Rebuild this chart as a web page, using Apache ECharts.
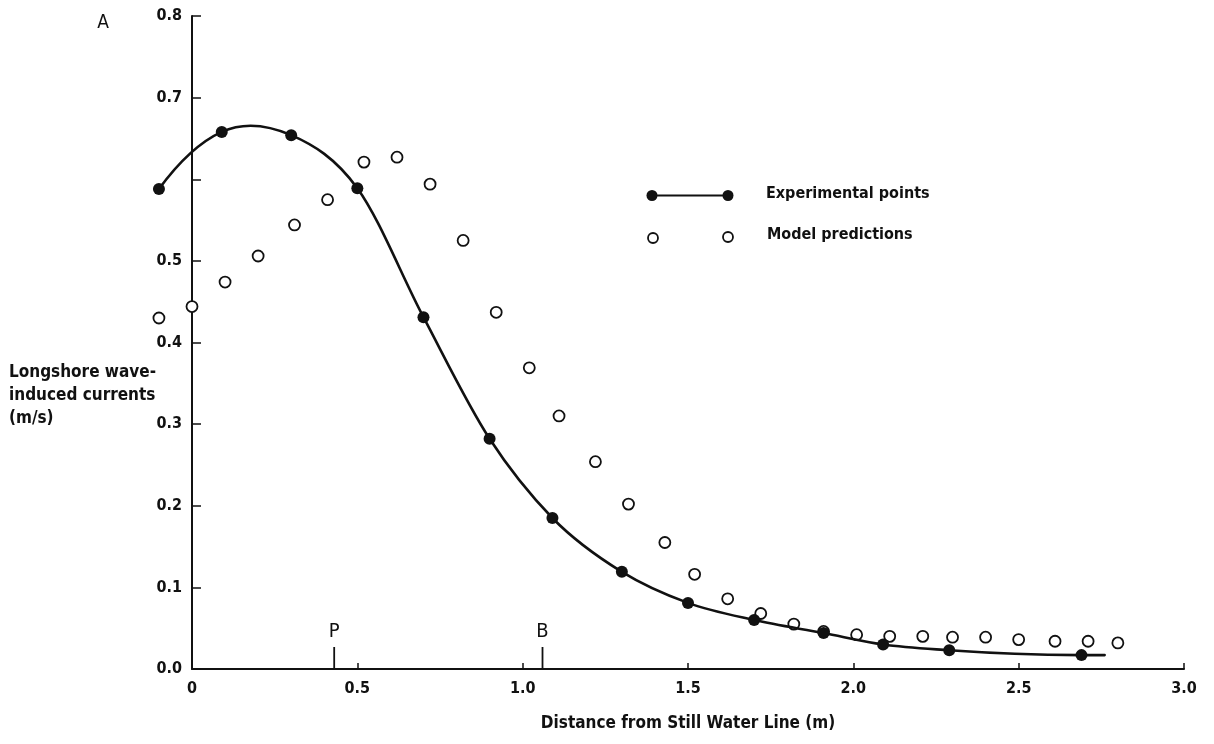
<!DOCTYPE html>
<html>
<head>
<meta charset="utf-8">
<title>Longshore wave-induced currents</title>
<script src="https://cdn.jsdelivr.net/npm/echarts@6/dist/echarts.min.js"></script>
<style>
  html, body { margin: 0; padding: 0; background: #fff; }
  #chart { width: 1214px; height: 744px; }
</style>
</head>
<body>
<div id="chart"></div>
<script>
// Distance from still water line (m) and measured longshore current (m/s)
const expX = [-0.10, 0.09, 0.30, 0.50, 0.70, 0.90, 1.09, 1.30, 1.50, 1.70, 1.91, 2.09, 2.29, 2.69];
const expY = [0.588, 0.658, 0.654, 0.589, 0.431, 0.282, 0.185, 0.119, 0.081, 0.060, 0.044, 0.030, 0.023, 0.017];
// where the fitted curve through the experimental points stops
const curveEnd = [2.76, 0.017];

// Model predictions (m/s)
const modX = [-0.10, 0.00, 0.10, 0.20, 0.31, 0.41, 0.52, 0.62, 0.72, 0.82, 0.92, 1.02, 1.11, 1.22, 1.32,
              1.43, 1.52, 1.62, 1.72, 1.82, 1.91, 2.01, 2.11, 2.21, 2.30, 2.40, 2.50, 2.61, 2.71, 2.80];
const modY = [0.430, 0.444, 0.474, 0.506, 0.544, 0.575, 0.621, 0.627, 0.594, 0.525, 0.437, 0.369, 0.310, 0.254, 0.202,
              0.155, 0.116, 0.086, 0.068, 0.055, 0.046, 0.042, 0.040, 0.040, 0.039, 0.039, 0.036, 0.034, 0.034, 0.032];

// Reference positions marked on the distance axis
const markerNames = ['P', 'B'];
const markerX = [0.43, 1.06];

// Tick labels (0.6 is left unlabelled)
const xTickLabels = ['0', '0.5', '1.0', '1.5', '2.0', '2.5', '3.0'];
const yTickLabels = ['0.0', '0.1', '0.2', '0.3', '0.4', '0.5', '', '0.7', '0.8'];

const FONT = '"DejaVu Sans Condensed", "DejaVu Sans", sans-serif';
const INK = '#111';

const chart = echarts.init(document.getElementById('chart'), null, { renderer: 'canvas' });

const expData = expX.map((x, i) => [x, expY[i]]);
const modData = modX.map((x, i) => [x, modY[i]]);
const markerData = markerX.map((x, i) => ({ name: markerNames[i], value: [x, 0] }));

// Smooth curve through the experimental points: cubic Hermite segments
// (three-point slopes) expressed as Bezier curves in pixel space.
function renderCurve(params, api) {
  const pts = expX.map((x, i) => api.coord([x, expY[i]]));
  pts.push(api.coord(curveEnd));
  const n = pts.length;
  const d = [];
  for (let i = 0; i < n - 1; i++) {
    d.push((pts[i + 1][1] - pts[i][1]) / (pts[i + 1][0] - pts[i][0]));
  }
  const s = new Array(n);
  for (let i = 1; i < n - 1; i++) {
    const h0 = pts[i][0] - pts[i - 1][0];
    const h1 = pts[i + 1][0] - pts[i][0];
    s[i] = (d[i - 1] * h1 + d[i] * h0) / (h0 + h1);
  }
  s[0] = 2 * d[0] - s[1];
  s[n - 1] = 2 * d[n - 2] - s[n - 2];
  const children = [];
  for (let i = 0; i < n - 1; i++) {
    const h = (pts[i + 1][0] - pts[i][0]) / 3;
    children.push({
      type: 'bezierCurve',
      shape: {
        x1: pts[i][0], y1: pts[i][1],
        cpx1: pts[i][0] + h, cpy1: pts[i][1] + s[i] * h,
        cpx2: pts[i + 1][0] - h, cpy2: pts[i + 1][1] - s[i + 1] * h,
        x2: pts[i + 1][0], y2: pts[i + 1][1]
      },
      style: { stroke: INK, lineWidth: 2.6, fill: null, lineCap: 'round' }
    });
  }
  return { type: 'group', children: children };
}

chart.setOption({
  animation: false,
  backgroundColor: '#fff',
  grid: { left: 192, right: 30, top: 16, bottom: 75, containLabel: false },
  xAxis: {
    type: 'value',
    min: 0, max: 3, interval: 0.5,
    name: 'Distance from Still Water Line (m)',
    nameLocation: 'middle',
    nameGap: 46,
    nameTextStyle: { fontFamily: FONT, fontWeight: 'bold', fontSize: 17, color: INK },
    axisLine: { show: true, onZero: false, lineStyle: { color: INK, width: 2 } },
    axisTick: { show: true, inside: true, length: 6, lineStyle: { color: INK, width: 1.5 } },
    axisLabel: {
      margin: 12, fontFamily: FONT, fontWeight: 'bold', fontSize: 16, color: INK,
      formatter: (v, i) => xTickLabels[i]
    },
    splitLine: { show: false }
  },
  yAxis: {
    type: 'value',
    min: 0, max: 0.8, interval: 0.1,
    axisLine: { show: true, onZero: false, lineStyle: { color: INK, width: 2 } },
    axisTick: { show: true, inside: true, length: 9, lineStyle: { color: INK, width: 1.5 } },
    axisLabel: {
      margin: 10, fontFamily: FONT, fontWeight: 'bold', fontSize: 16, color: INK,
      formatter: (v, i) => yTickLabels[i]
    },
    splitLine: { show: false }
  },
  graphic: [
    {
      type: 'text', left: 9, top: 361,
      style: {
        text: 'Longshore wave-\ninduced currents\n(m/s)',
        font: 'bold 17px ' + FONT, fill: INK, lineHeight: 23
      }
    },
    {
      type: 'text', x: 103, y: 23,
      style: { text: 'A', font: '19px ' + FONT, fill: INK, align: 'center', verticalAlign: 'middle' }
    },
    {
      type: 'group', x: 646, y: 189,
      children: [
        { type: 'line', shape: { x1: 6, y1: 6.5, x2: 82, y2: 6.5 }, style: { stroke: INK, lineWidth: 2 } },
        { type: 'circle', shape: { cx: 6, cy: 6.5, r: 5.5 }, style: { fill: INK } },
        { type: 'circle', shape: { cx: 82, cy: 6.5, r: 5.5 }, style: { fill: INK } },
        { type: 'text', x: 120, y: 5, style: { text: 'Experimental points', font: 'bold 16px ' + FONT, fill: INK, verticalAlign: 'middle' } },
        { type: 'circle', shape: { cx: 7, cy: 49, r: 5 }, style: { fill: '#fff', stroke: INK, lineWidth: 1.8 } },
        { type: 'circle', shape: { cx: 82, cy: 48, r: 5 }, style: { fill: '#fff', stroke: INK, lineWidth: 1.8 } },
        { type: 'text', x: 121, y: 46, style: { text: 'Model predictions', font: 'bold 16px ' + FONT, fill: INK, verticalAlign: 'middle' } }
      ]
    }
  ],
  series: [
    {
      type: 'scatter',
      name: 'Model predictions',
      data: modData,
      symbol: 'circle',
      symbolSize: 11,
      itemStyle: { color: '#fff', borderColor: INK, borderWidth: 1.8, opacity: 1 },
      clip: false,
      z: 2
    },
    {
      type: 'custom',
      name: 'Experimental points',
      data: [0],
      clip: false,
      z: 3,
      renderItem: renderCurve
    },
    {
      type: 'scatter',
      name: 'Experimental points',
      data: expData,
      symbol: 'circle',
      symbolSize: 12,
      itemStyle: { color: INK, opacity: 1 },
      clip: false,
      z: 4
    },
    {
      type: 'custom',
      name: 'Markers',
      data: markerData,
      clip: false,
      z: 4,
      renderItem: function (params, api) {
        const p = api.coord([api.value(0), 0]);
        const item = markerData[params.dataIndex];
        return {
          type: 'group',
          children: [
            { type: 'line', shape: { x1: p[0], y1: p[1], x2: p[0], y2: p[1] - 22 }, style: { stroke: INK, lineWidth: 1.8 } },
            { type: 'text', x: p[0], y: p[1] - 37, style: { text: item.name, font: '20px ' + FONT, fill: INK, align: 'center', verticalAlign: 'middle' } }
          ]
        };
      }
    }
  ]
});
</script>
</body>
</html>
